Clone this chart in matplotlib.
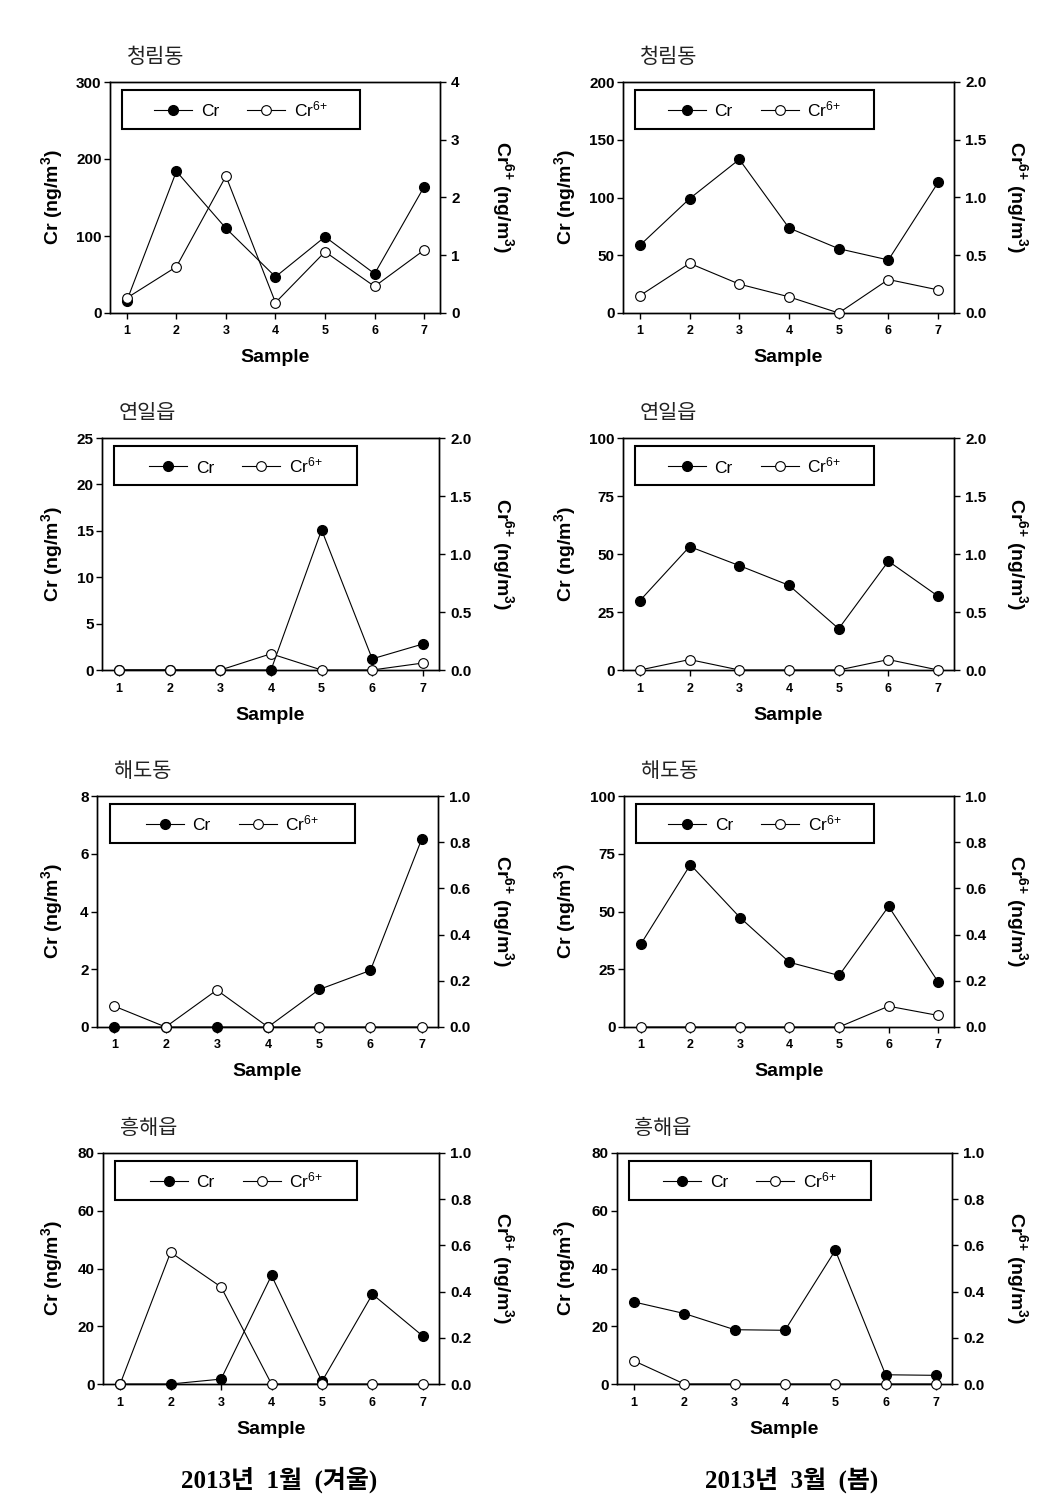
import matplotlib
matplotlib.use("Agg")
import matplotlib.pyplot as plt
from matplotlib.patches import Rectangle
from matplotlib.lines import Line2D
from matplotlib.ticker import FormatStrFormatter

plt.rcParams['font.family'] = ['Liberation Sans', 'Noto Sans CJK KR', 'DejaVu Sans']
plt.rcParams['mathtext.default'] = 'regular'

samples = [1, 2, 3, 4, 5, 6, 7]
sites = ['청림동', '연일읍', '해도동', '흥해읍']
seasons = ['2013년  1월  (겨울)', '2013년  3월  (봄)']

# January (winter)
cr_jan = [
    [16, 184, 110, 47, 99, 51, 164],
    [0, 0, 0, 0, 15.1, 1.2, 2.8],
    [0, 0, 0, 0, 1.3, 1.96, 6.5],
    [0, 0, 1.7, 37.6, 0.9, 31.1, 16.6],
]
cr6_jan = [
    [0.26, 0.80, 2.37, 0.18, 1.06, 0.46, 1.09],
    [0, 0, 0, 0.14, 0, 0, 0.06],
    [0.09, 0, 0.16, 0, 0, 0, 0],
    [0, 0.57, 0.42, 0, 0, 0, 0],
]
# March (spring)
cr_mar = [
    [58.6, 99, 133, 73.6, 55.7, 45.9, 113],
    [29.9, 53.2, 45, 36.5, 17.8, 46.9, 31.8],
    [35.9, 70.3, 47.4, 28, 22.3, 52.2, 19.5],
    [28.4, 24.4, 18.8, 18.6, 46.3, 3.2, 3.0],
]
cr6_mar = [
    [0.15, 0.43, 0.25, 0.14, 0, 0.29, 0.20],
    [0, 0.09, 0, 0, 0, 0.09, 0],
    [0, 0, 0, 0, 0, 0.09, 0.05],
    [0.10, 0, 0, 0, 0, 0, 0],
]

left_ticks_jan = [[0, 100, 200, 300], [0, 5, 10, 15, 20, 25], [0, 2, 4, 6, 8], [0, 20, 40, 60, 80]]
right_ticks_jan = [[0, 1, 2, 3, 4], [0, 0.5, 1.0, 1.5, 2.0],
                   [0, 0.2, 0.4, 0.6, 0.8, 1.0], [0, 0.2, 0.4, 0.6, 0.8, 1.0]]
left_ticks_mar = [[0, 50, 100, 150, 200], [0, 25, 50, 75, 100], [0, 25, 50, 75, 100], [0, 20, 40, 60, 80]]
right_ticks_mar = [[0, 0.5, 1.0, 1.5, 2.0], [0, 0.5, 1.0, 1.5, 2.0],
                   [0, 0.2, 0.4, 0.6, 0.8, 1.0], [0, 0.2, 0.4, 0.6, 0.8, 1.0]]

W, H = 1046, 1502
# axes boxes in pixels: left, top, right, bottom
boxes = [
    [(110, 82, 440, 313), (623, 82, 954, 313)],
    [(102, 438, 439, 670), (623, 438, 954, 670)],
    [(97, 796, 438, 1027), (624, 796, 954, 1027)],
    [(103, 1153, 439, 1384), (617, 1153, 952, 1384)],
]
ylab_x = [52, 565]
y2lab_x = [503, 1017]
caption_x = [279, 792]

fig = plt.figure(figsize=(W / 100, H / 100), dpi=100)


def draw_panel(box, col, site, cr, cr6, lt, rt):
    l, t, r, b = box
    ax = fig.add_axes([l / W, 1 - b / H, (r - l) / W, (b - t) / H])
    ax2 = ax.twinx()
    ax.plot(samples, cr, '-', color='black', lw=0.8, marker='o', ms=7,
            mfc='black', mec='black', clip_on=False, zorder=3)
    ax2.plot(samples, cr6, '-', color='black', lw=0.8, marker='o', ms=7,
             mfc='white', mec='black', mew=0.8, clip_on=False, zorder=3)
    ax.set_xlim(0.66, 7.32)
    ax.set_ylim(lt[0], lt[-1])
    ax2.set_ylim(rt[0], rt[-1])
    ax.set_xticks(samples)
    ax.set_yticks(lt)
    ax2.set_yticks(rt)
    if isinstance(rt[1], float):
        ax2.yaxis.set_major_formatter(FormatStrFormatter('%.1f'))
    for a in (ax, ax2):
        a.tick_params(direction='out', length=4, width=1, labelsize=11)
        for s in a.spines.values():
            s.set_linewidth(1)
        for lab in a.get_yticklabels():
            lab.set_fontweight('bold')
    ax.tick_params(axis='y', pad=2)
    ax2.tick_params(axis='y', pad=4)
    ax.tick_params(axis='x', labelsize=9, pad=5)
    for lab in ax.get_xticklabels():
        lab.set_fontweight('bold')

    wpx = r - l
    hpx = b - t
    ax.set_ylabel('Cr (ng/m$^3$)', fontsize=14, fontweight='bold')
    ax.yaxis.set_label_coords((ylab_x[col] - l) / wpx, 0.5)
    ax2.set_ylabel('Cr$^{6{+}}$ (ng/m$^3$)', fontsize=14, fontweight='bold', rotation=270)
    ax2.yaxis.set_label_coords((y2lab_x[col] - l) / wpx, 0.5)
    ax2.yaxis.label.set_va('center')
    ax.yaxis.label.set_va('center')
    ax.set_xlabel('Sample', fontsize=14, fontweight='bold')
    ax.xaxis.set_label_coords(0.5, -45 / hpx)
    ax.xaxis.label.set_va('center')

    ax.text(0.05, 1 + 25 / hpx, site, transform=ax.transAxes, fontsize=15,
            va='center', ha='left', color='#222222', family=['Noto Sans CJK KR'])

    # legend box
    x0, y0, lw_, lh_ = 0.037, 0.797, 0.72, 0.168
    rect = Rectangle((x0, y0), lw_, lh_, transform=ax2.transAxes, facecolor='white',
                     edgecolor='black', lw=1.5, zorder=5)
    ax2.add_patch(rect)
    handles = [
        Line2D([], [], color='black', lw=0.8, marker='o', ms=7, mfc='black', mec='black'),
        Line2D([], [], color='black', lw=0.8, marker='o', ms=7, mfc='white', mec='black', mew=0.8),
    ]
    leg = ax2.legend(handles, ['Cr', 'Cr$^{6{+}}$'], ncol=2, frameon=False, loc='center',
                     bbox_to_anchor=(x0 + lw_ / 2, y0 + lh_ / 2), bbox_transform=ax2.transAxes,
                     fontsize=12.5, handlelength=2.2, handletextpad=0.5, columnspacing=1.6)
    leg.set_zorder(6)


for row in range(4):
    draw_panel(boxes[row][0], 0, sites[row], cr_jan[row], cr6_jan[row],
               left_ticks_jan[row], right_ticks_jan[row])
    draw_panel(boxes[row][1], 1, sites[row], cr_mar[row], cr6_mar[row],
               left_ticks_mar[row], right_ticks_mar[row])

for col in range(2):
    fig.text(caption_x[col] / W, 1 - 1480 / H, seasons[col], fontsize=18, fontweight='bold',
             ha='center', va='center', family=['Liberation Serif', 'Noto Sans CJK KR'])

fig.savefig('out.png', dpi=100)
